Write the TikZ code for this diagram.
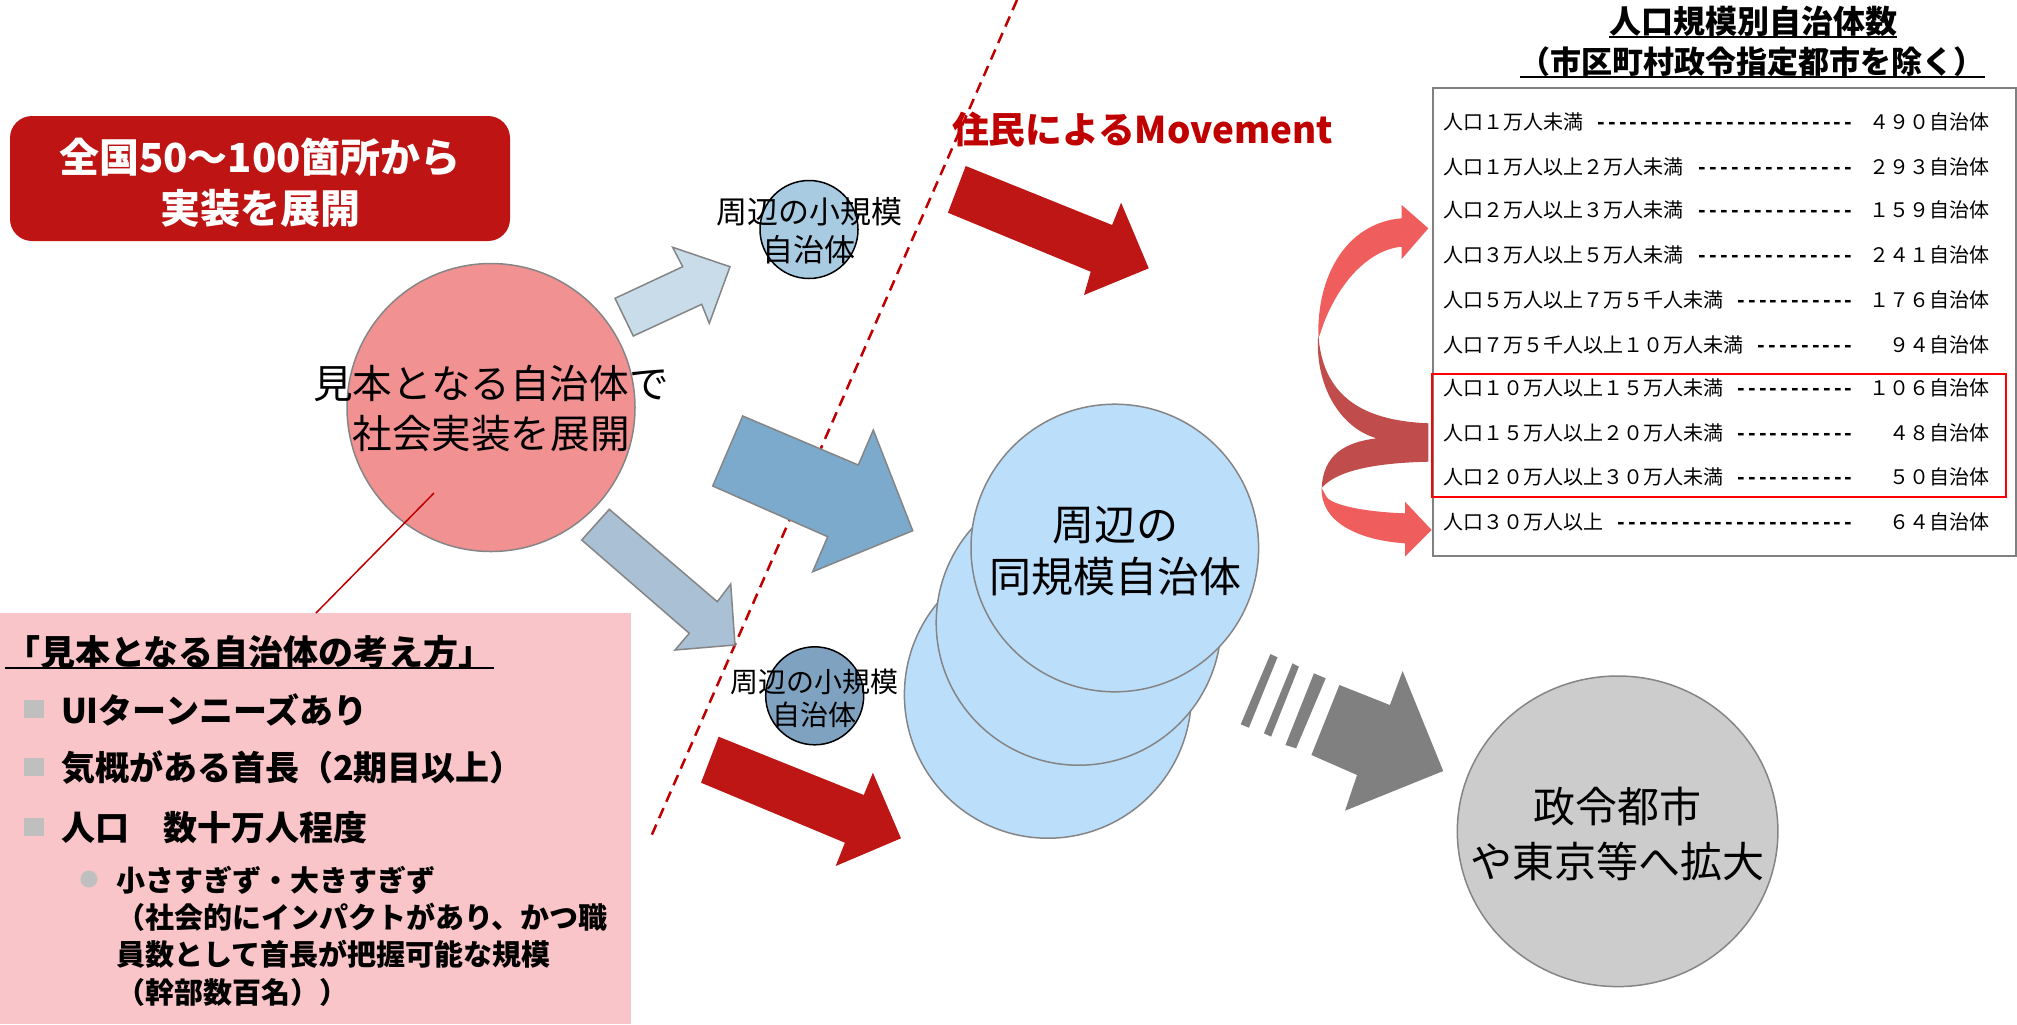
\documentclass[tikz,border=0pt]{standalone}
\usepackage{fontspec}
\setmainfont{Noto Sans CJK JP}
\usetikzlibrary{shapes.geometric}
\newcommand\setfs[2]{\fontsize{#1pt}{#2pt}\selectfont}
\newcommand\myul[1]{\leavevmode\setbox0\hbox{#1}\rlap{\rule[-2pt]{\wd0}{1pt}}\box0}
\newcommand\tabrow[2]{\hbox to 273pt{#1\hskip6.5pt{\bfseries\xleaders\hbox to 5.3pt{\hss-\hss}\hfill}\hbox to 67.5pt{\hfill #2}}}
\definecolor{boxred}{HTML}{BE1414}
\definecolor{pinkcirc}{HTML}{F29191}
\definecolor{arrowA}{HTML}{C8DCEA}
\definecolor{arrowB}{HTML}{7BAACD}
\definecolor{arrowC}{HTML}{A9C0D5}
\definecolor{smallA}{HTML}{A9CBE1}
\definecolor{smallB}{HTML}{7FA2C1}
\definecolor{stackblue}{HTML}{BBDEFB}
\definecolor{darkred}{HTML}{C00000}
\definecolor{arrowred}{HTML}{BE1515}
\definecolor{graydark}{HTML}{808080}
\definecolor{graycirc}{HTML}{CCCCCC}
\definecolor{pinkbox}{HTML}{F9C5C8}
\definecolor{bulletgray}{HTML}{BFBFBF}
\definecolor{linegray}{HTML}{858585}
\definecolor{curvelight}{HTML}{EF5D5D}
\definecolor{curvedark}{HTML}{C04C4C}
\begin{document}
\begin{tikzpicture}[x=0.5pt,y=-0.5pt,
  every node/.style={inner sep=0pt,outer sep=0pt},
  shapeborder/.style={draw=linegray,line width=0.75pt},
  blockarrow/.style={draw=linegray,line width=0.75pt,line join=miter},
  redarrow/.style={fill=arrowred},
  rowtext/.style={anchor=west,font=\setfs{10}{12}},
  bullettext/.style={anchor=west,font=\bfseries\setfs{17}{20}},
  sqbullet/.style={fill=bulletgray,minimum width=10pt,minimum height=9pt}]
\useasboundingbox (0,0) rectangle (2017,1024);

% background boxes
\node[fill=pinkbox,minimum width=315.5pt,minimum height=205.5pt,anchor=north west] (pbox) at (0,613) {};
\node[fill=boxred,rounded corners=11pt,minimum width=250pt,minimum height=62.5pt] (redbox) at (260,178.5) {};
\node[text=white,font=\bfseries\setfs{20}{25.5},align=center] (redtxt) at (260,182.5) {全国50～100箇所から\\実装を展開};

% dashed divider
\coordinate (dtop) at (1017,0);
\coordinate (dbot) at (650,839);
\draw[darkred,line width=1.25pt,dash pattern=on 5.5pt off 3.5pt] (dtop) -- (dbot);

% model municipality
\node[circle,shapeborder,fill=pinkcirc,minimum size=144pt] (pinkc) at (491,407.5) {};
\node[font=\setfs{19.8}{25},align=center] (pinkt) at (491,408) {見本となる自治体で\\社会実装を展開};
\coordinate (lnA) at (434,493);
\coordinate (lnB) at (316,613);
\draw[darkred,line width=0.75pt] (lnA) -- (lnB);

% pink box text
\node[anchor=base west,font=\bfseries\setfs{17.5}{20}] (pbt) at (5,665.3) {\myul{「見本となる自治体の考え方」}};
\node[sqbullet] (sq1) at (34,709) {};
\node[sqbullet] (sq2) at (34,767) {};
\node[sqbullet] (sq3) at (34,827) {};
\node[bullettext] (b1) at (61,710) {UIターンニーズあり};
\node[bullettext] (b2) at (61,768) {気概がある首長（2期目以上）};
\node[bullettext] (b3) at (61,828) {人口　数十万人程度};
\node[circle,fill=bulletgray,minimum size=8.5pt] (dot1) at (89,879) {};
\node[anchor=west,align=left,font=\bfseries\setfs{14.5}{18.65}] (subt) at (116,936) {小さすぎず・大きすぎず\\（社会的にインパクトがあり、かつ職\\員数として首長が把握可能な規模\\（幹部数百名））};

% block arrows
\filldraw[blockarrow,fill=arrowA] (615,298.3) -- (682.7,266.7) -- (672.7,247.3) -- (730,266.7) -- (709.3,323.3) -- (701.7,304.3) -- (633.3,336) -- cycle;
\filldraw[blockarrow,fill=arrowB] (742.7,416) -- (858.3,465) -- (873.3,430) -- (912.7,530.7) -- (812.7,571.7) -- (827.7,536.7) -- (712.7,486) -- cycle;
\filldraw[blockarrow,fill=arrowC] (609.3,509.3) -- (717.3,601.7) -- (730.7,584) -- (735,645) -- (675,650) -- (689.3,633.3) -- (581.7,540) -- cycle;
\fill[redarrow] (965.7,166) -- (1112.1,225) -- (1121.1,202.7) -- (1148.75,268.3) -- (1084,295) -- (1090.7,271.7) -- (947.9,212.7) -- cycle;
\fill[redarrow] (718.6,736.7) -- (863.8,795) -- (872.9,772.7) -- (901,838.3) -- (835.7,866) -- (844.9,842.7) -- (701,782.7) -- cycle;

\node[anchor=west,text=darkred,font=\bfseries\setfs{18.4}{24}] (mvt) at (952,130) {住民によるMovement};

% small municipalities
\node[circle,draw=black,line width=0.75pt,fill=smallA,minimum size=49pt] (smA) at (809,229.5) {};
\node[font=\setfs{15.5}{19},align=center] (smAt) at (809,231) {周辺の小規模\\自治体};
\node[circle,draw=black,line width=0.75pt,fill=smallB,minimum size=49pt] (smB) at (814.7,695.8) {};
\node[font=\setfs{14}{16.5},align=center] (smBt) at (814,698.3) {周辺の小規模\\自治体};

% stacked circles
\node[circle,shapeborder,fill=stackblue,minimum size=143.5pt] (st3) at (1047.9,694.7) {};
\node[circle,shapeborder,fill=stackblue,minimum size=142.5pt] (st2) at (1078.7,622.7) {};
\node[circle,shapeborder,fill=stackblue,minimum size=143.8pt] (st1) at (1114.8,548) {};
\node[font=\setfs{21}{26},align=center] (stt) at (1115,551) {周辺の\\同規模自治体};

% gray stripes and arrow
\fill[graydark] (1270.4,654) -- (1277.5,657.3) -- (1248.9,727.7) -- (1240.7,724.3) -- cycle;
\fill[graydark] (1292.5,663.3) -- (1298.9,666.7) -- (1271.1,736.7) -- (1263.9,733.3) -- cycle;
\fill[graydark] (1313.9,673.3) -- (1325.7,678.3) -- (1296.1,748.3) -- (1285.4,745) -- cycle;
\fill[graydark] (1339.4,685) -- (1389.9,705) -- (1402.6,671) -- (1443.2,771) -- (1345,810.7) -- (1357,775) -- (1311.4,755) -- cycle;

\node[ellipse,shapeborder,fill=graycirc,minimum width=160.3pt,minimum height=155.3pt] (gc) at (1617.6,831.3) {};
\node[font=\setfs{21}{27.5},align=center] (gct) at (1617.6,834.2) {政令都市\\や東京等へ拡大};

% table
\node[anchor=base,font=\bfseries\setfs{16}{20}] (tt1) at (1753,33.7) {\myul{人口規模別自治体数}};
\node[anchor=base,font=\bfseries\setfs{15.5}{20}] (tt2) at (1752,73.7) {\myul{（市区町村政令指定都市を除く）}};
\node[draw=graydark,line width=1pt,minimum width=291.35pt,minimum height=233.85pt,anchor=north west] (tbl) at (1433.3,88.3) {};
\node[rowtext] (r1) at (1443,121.7) {\tabrow{人口１万人未満}{４９０自治体}};
\node[rowtext] (r2) at (1443,166.7) {\tabrow{人口１万人以上２万人未満}{２９３自治体}};
\node[rowtext] (r3) at (1443,210) {\tabrow{人口２万人以上３万人未満}{１５９自治体}};
\node[rowtext] (r4) at (1443,255) {\tabrow{人口３万人以上５万人未満}{２４１自治体}};
\node[rowtext] (r5) at (1443,300) {\tabrow{人口５万人以上７万５千人未満}{１７６自治体}};
\node[rowtext] (r6) at (1443,345) {\tabrow{人口７万５千人以上１０万人未満}{９４自治体}};
\node[rowtext] (r7) at (1443,388.3) {\tabrow{人口１０万人以上１５万人未満}{１０６自治体}};
\node[rowtext] (r8) at (1443,433.3) {\tabrow{人口１５万人以上２０万人未満}{４８自治体}};
\node[rowtext] (r9) at (1443,476.7) {\tabrow{人口２０万人以上３０万人未満}{５０自治体}};
\node[rowtext] (r10) at (1443,521.7) {\tabrow{人口３０万人以上}{６４自治体}};
\node[draw=red,line width=1pt,minimum width=287.1pt,minimum height=61.35pt,anchor=north west] (hl) at (1432.2,374) {};

% curved arrows
\fill[curvedark] (1428.3,423.3) .. controls (1375,421) and (1322,405) .. (1318.3,333)
  .. controls (1314,385) and (1340,428) .. (1376.7,438.3)
  .. controls (1345,442) and (1323,455) .. (1321.7,488)
  .. controls (1335,472) and (1370,463) .. (1428.3,461.7) -- cycle;
\fill[curvelight] (1318.3,333) .. controls (1318,268) and (1352,222) .. (1401.7,218.3) -- (1401.7,205) -- (1428.3,228.3) -- (1401.7,259) -- (1401.7,246.7) .. controls (1365,250) and (1333,290) .. (1319.5,336) -- cycle;
\fill[curvelight] (1321.7,488) .. controls (1320,520) and (1355,540) .. (1405,543.3) -- (1405,556.7) -- (1431.7,530) -- (1405,501.7) -- (1405,513.3) .. controls (1365,512) and (1330,505) .. (1326,496) -- cycle;
\end{tikzpicture}
\end{document}
